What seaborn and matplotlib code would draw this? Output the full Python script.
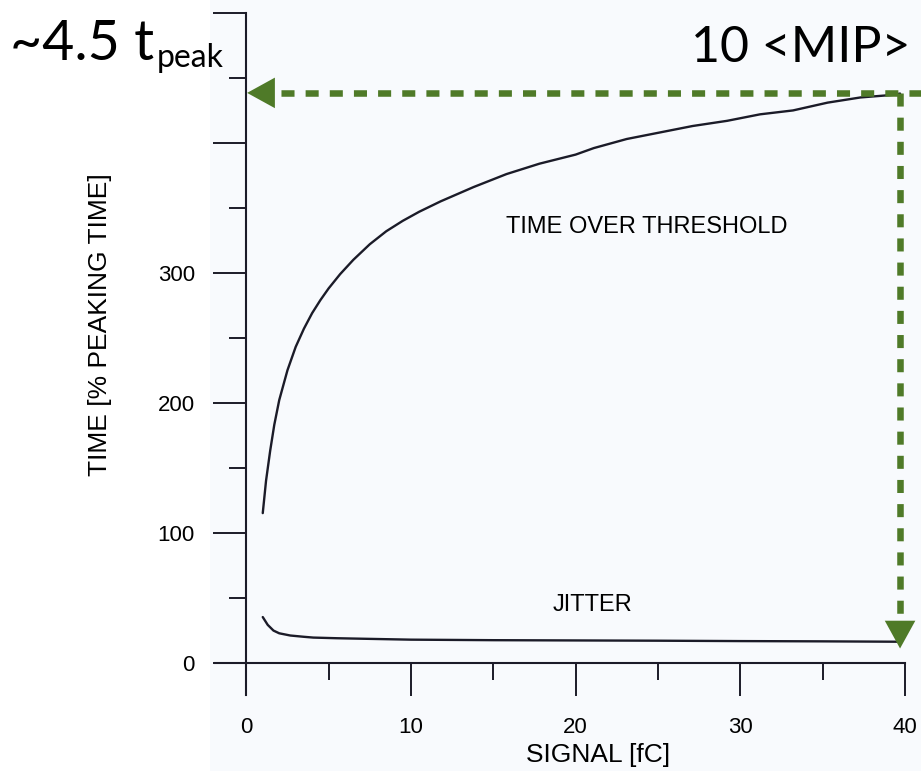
import numpy as np
import pandas as pd
import matplotlib
matplotlib.use("Agg")
import matplotlib.pyplot as plt
import seaborn as sns
from matplotlib.ticker import FixedLocator, FixedFormatter
from matplotlib.patches import Rectangle

# ---- data ----
signal_tot = [1.0, 1.2, 1.45, 1.7, 2.0, 2.5, 3.0, 3.5, 4.0, 4.5, 5.0, 5.7, 6.5, 7.5, 8.5,
              9.5, 10.5, 11.8, 13.8, 15.8, 17.8, 20.0, 21.1, 23.1, 25.1, 27.1, 29.2, 31.2,
              33.2, 35.3, 37.3, 39.3, 39.7]
tot = [115, 140, 163, 183, 202, 225, 243, 257, 269, 279, 288, 299, 310, 322, 332,
       340, 347, 355, 366, 376, 384, 391, 396, 403, 408, 413, 417, 422,
       425, 431, 435, 437, 438]

signal_jit = [1.0, 1.3, 1.65, 2.0, 2.67, 3.5, 4.07, 5.5, 7.1, 10, 15, 20, 25, 30, 35, 39.7]
jitter = [35, 29, 24.6, 22.5, 20.8, 19.8, 19.2, 18.7, 18.3, 17.6, 17.2, 17.0, 16.8, 16.5, 16.3, 16.0]

x_major = [0, 10, 20, 30, 40]
x_minor = [5, 15, 25, 35]
y_major = [0, 100, 200, 300, 400, 500]
y_major_labels = ["0", "100", "200", "300", "", ""]
y_minor = [50, 150, 250, 350, 450]

mip_signal = 39.7     # 10 <MIP>
mip_time = 438.5      # ~4.5 t_peak

# ---- style ----
sns.set_style("white")
plt.rcParams["font.family"] = ["Liberation Sans", "DejaVu Sans"]
plt.rcParams["text.color"] = "black"
plt.rcParams["axes.labelcolor"] = "black"

W, H = 921, 771
fig = plt.figure(figsize=(W / 100, H / 100), dpi=100)
fig.patch.set_facecolor("white")
fig.patches.append(Rectangle((210 / W, 0), 1 - 210 / W, 1, transform=fig.transFigure,
                             facecolor="#f8fafd", edgecolor="none", zorder=-10))

ax = fig.add_axes([215 / W, (H - 695) / H, 690 / W, 682 / H])
ax.set_facecolor("none")

ink = "#1b1b28"
df_tot = pd.DataFrame({"signal": signal_tot, "time": tot})
df_jit = pd.DataFrame({"signal": signal_jit, "time": jitter})
sns.lineplot(data=df_tot, x="signal", y="time", ax=ax, color=ink, lw=1.7, estimator=None)
sns.lineplot(data=df_jit, x="signal", y="time", ax=ax, color=ink, lw=1.7, estimator=None)

ax.set_xlim(-1.9, 40)
ax.set_ylim(-25, 500)

for s in ["top", "right"]:
    ax.spines[s].set_visible(False)
ax.spines["left"].set_position(("data", 0))
ax.spines["bottom"].set_position(("data", 0))
for s in ["left", "bottom"]:
    ax.spines[s].set_color(ink)
    ax.spines[s].set_linewidth(1.5)

ax.xaxis.set_major_locator(FixedLocator(x_major))
ax.xaxis.set_minor_locator(FixedLocator(x_minor))
ax.yaxis.set_major_locator(FixedLocator(y_major))
ax.yaxis.set_major_formatter(FixedFormatter(y_major_labels))
ax.yaxis.set_minor_locator(FixedLocator(y_minor))

ax.tick_params(axis="both", which="major", direction="out", length=24, width=1.4,
               color=ink, labelsize=16, labelcolor="black")
ax.tick_params(axis="both", which="minor", direction="out", length=12.5, width=1.4, color=ink)
ax.tick_params(axis="y", which="major", pad=13, left=True)
ax.tick_params(axis="y", which="minor", left=True)
ax.tick_params(axis="x", which="major", pad=15, bottom=True)
ax.tick_params(axis="x", which="minor", bottom=True)

ax.set_xlabel("SIGNAL [fC]", fontsize=19, color="black")
ax.set_ylabel("TIME [% PEAKING TIME]", fontsize=19, color="black")
ax.xaxis.set_label_coords(0.555, -0.088)
ax.yaxis.set_label_coords(-0.167, 0.5425)
ax.xaxis.label.set_va("center")
ax.yaxis.label.set_va("center")

ax.text(24.3, 335, "TIME OVER THRESHOLD", fontsize=17, ha="center", va="center", color="black")
ax.text(21.0, 44.6, "JITTER", fontsize=17, ha="center", va="center", color="black")

# ---- green dashed arrows ----
green = "#4f7a28"
dash = (0, (2.0, 1.7))
ax.plot([41.2, 1.7], [mip_time, mip_time], color=green, lw=4.7, linestyle=dash,
        clip_on=False, dash_capstyle="butt", zorder=5)
ax.plot([mip_signal, mip_signal], [mip_time, 37.0], color=green, lw=4.7, linestyle=dash,
        clip_on=False, dash_capstyle="butt", zorder=5)
head = "-|>,head_length=1.0,head_width=0.55"
ax.annotate("", xy=(0.05, mip_time), xytext=(2.4, mip_time),
            arrowprops=dict(arrowstyle=head, mutation_scale=20, color=green, lw=0,
                            shrinkA=0, shrinkB=0), annotation_clip=False, zorder=6)
ax.annotate("", xy=(mip_signal, 10.8), xytext=(mip_signal, 60),
            arrowprops=dict(arrowstyle=head, mutation_scale=20, color=green, lw=0,
                            shrinkA=0, shrinkB=0), annotation_clip=False, zorder=6)

# ---- big annotations ----
big = ["Lato", "DejaVu Sans"]
fig.text(10 / W, 1 - 60 / H, "~4.5 t", fontsize=40, family=big, va="baseline", ha="left",
         color="black")
fig.text(157 / W, 1 - 67 / H, "peak", fontsize=23, family=big, va="baseline", ha="left",
         color="black")
fig.text(910 / W, 1 - 62 / H, "10 <MIP>", fontsize=36, family=big, va="baseline", ha="right",
         color="black")

fig.savefig("out.png", dpi=100)
